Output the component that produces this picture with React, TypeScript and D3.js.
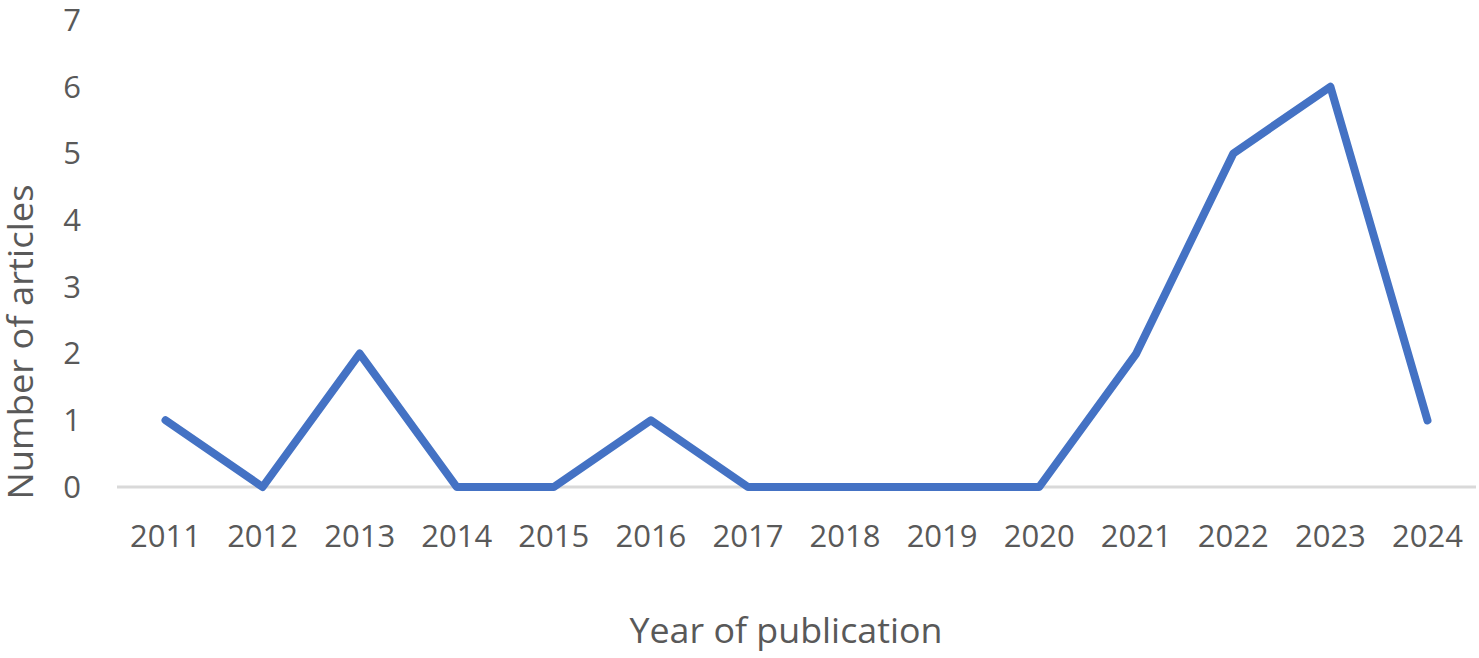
import React from 'react'
import * as d3 from 'd3'

const years = ['2011', '2012', '2013', '2014', '2015', '2016', '2017', '2018', '2019', '2020', '2021', '2022', '2023', '2024']
const articles = [1, 0, 2, 0, 0, 1, 0, 0, 0, 0, 2, 5, 6, 1]
const yTicks = [0, 1, 2, 3, 4, 5, 6, 7]

const width = 1479
const height = 658
const font = '"Open Sans", sans-serif'
const textColor = '#595959'

export default function App() {
  const x = d3.scaleBand().domain(years).range([117, 1476])
  const y = d3.scaleLinear().domain([0, 7]).range([487, 20])
  const line = d3.line<number>()
    .x((d, i) => x(years[i])! + x.bandwidth() / 2)
    .y(d => y(d))

  return (
    <div style={{ position: 'absolute', left: 0, top: 0 }}>
      <svg width={width} height={height} style={{ display: 'block', background: '#fff' }}>
        <line x1={x.range()[0]} x2={x.range()[1]} y1={y(0)} y2={y(0)} stroke="#d9d9d9" strokeWidth={3} />
        {yTicks.map(t => (
          <text key={t} x={81} y={y(t)} dy="0.35em" textAnchor="end"
            fontFamily={font} fontSize={31} fill={textColor}>{t}</text>
        ))}
        {years.map(yr => (
          <text key={yr} x={x(yr)! + x.bandwidth() / 2} y={547} textAnchor="middle"
            fontFamily={font} fontSize={31} fill={textColor}>{yr}</text>
        ))}
        <path d={line(articles)!} fill="none" stroke="#4472c4" strokeWidth={8}
          strokeLinejoin="round" strokeLinecap="round" />
        <text x={786} y={643} textAnchor="middle" fontFamily={font} fontSize={35}
          fill={textColor} textLength={313} lengthAdjust="spacingAndGlyphs">Year of publication</text>
        <text transform="translate(33,342) rotate(-90)" textAnchor="middle" fontFamily={font}
          fontSize={35} fill={textColor} textLength={315} lengthAdjust="spacingAndGlyphs">Number of articles</text>
      </svg>
    </div>
  )
}
